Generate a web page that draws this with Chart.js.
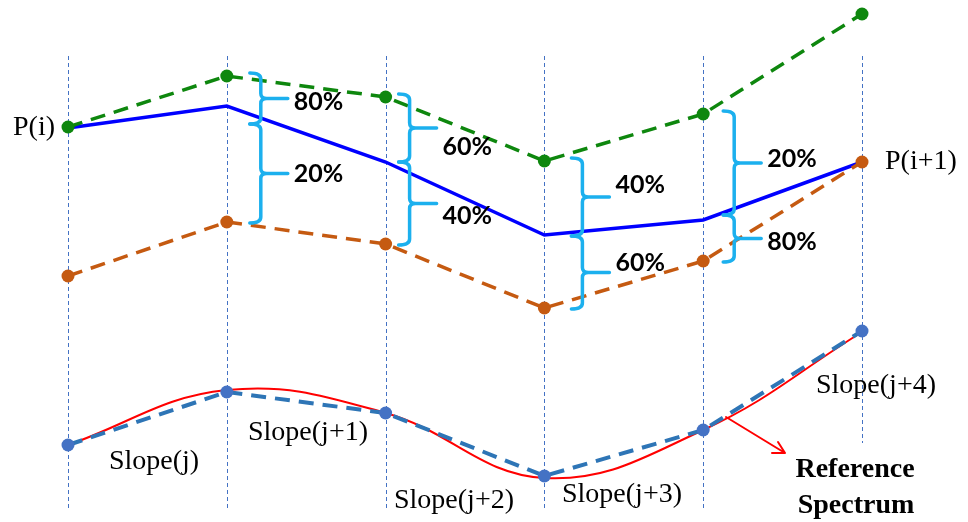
<!DOCTYPE html>
<html>
<head>
<meta charset="utf-8">
<script src="https://cdn.jsdelivr.net/npm/chart.js@4.4.1/dist/chart.umd.min.js"></script>
<style>
  html, body { margin: 0; padding: 0; background: #fff; }
  #wrap { width: 968px; height: 522px; position: relative; }
</style>
</head>
<body>
<div id="wrap"><canvas id="chart"></canvas></div>
<script>
// Wavelength steps (one vertical dashed guide per step)
const steps = ['0', '1', '2', '3', '4', '5'];

// Upper panel: two neighbouring spectra and the weighted one between them
const upperSpectrum = [39.5, 44.6, 42.5, 36.1, 40.8, 50.8];
const blendedSpectrum = [39.4, 41.6, 36.0, 28.7, 30.2, 36.0];
const lowerSpectrum = [24.6, 30.0, 27.8, 21.4, 26.1, 36.0];

// Where each brace pair splits (steps 1..4)
const braceSplit = [39.8, 36.0, 28.6, 30.7];
const upperPct = ['80%', '60%', '40%', '20%'];
const lowerPct = ['20%', '40%', '60%', '80%'];

// Lower panel: slope points and the reference spectrum
const slopePoints = [7.7, 13.0, 10.9, 4.6, 9.2, 19.1];
const referenceSpectrum = [7.7, 13.2, 10.9, 4.4, 9.2, 19.0];
const slopeLabels = ['Slope(j)', 'Slope(j+1)', 'Slope(j+2)', 'Slope(j+3)', 'Slope(j+4)'];

const GREEN = '#0E870E';
const ORANGE = '#C55A11';
const CYAN = '#1CB0EE';

// Vertical guides, braces and all the text
const annotate = {
    id: 'annotate',
    beforeDatasetsDraw(chart) {
        const ctx = chart.ctx;
        const x = chart.scales.x;
        ctx.save();
        ctx.strokeStyle = '#4472C4';
        ctx.lineWidth = 1;
        ctx.setLineDash([4, 3]);
        steps.forEach((s, i) => {
            const px = Math.round(x.getPixelForValue(i)) + 0.5;
            ctx.beginPath();
            ctx.moveTo(px, 56);
            ctx.lineTo(px, i === steps.length - 1 ? 443 : 510);
            ctx.stroke();
        });
        ctx.restore();
    },
    afterDatasetsDraw(chart) {
        const ctx = chart.ctx;
        const x = chart.scales.x;
        const y = chart.scales.y;
        const braceDx = [34, 24, 38, 31];
        const upperDy = [3, 19, -12, -4];
        const lowerDy = [0, 12, -10, 3];

        function brace(xb, top, bot) {
            const mid = (top + bot) / 2;
            ctx.beginPath();
            ctx.moveTo(xb - 11, top);
            ctx.quadraticCurveTo(xb, top, xb, top + 6);
            ctx.lineTo(xb, mid - 5);
            ctx.quadraticCurveTo(xb, mid, xb + 6, mid);
            ctx.lineTo(xb + 27, mid);
            ctx.moveTo(xb + 6, mid);
            ctx.quadraticCurveTo(xb, mid, xb, mid + 5);
            ctx.lineTo(xb, bot - 6);
            ctx.quadraticCurveTo(xb, bot, xb - 11, bot);
            ctx.stroke();
            return mid;
        }

        ctx.save();
        ctx.strokeStyle = CYAN;
        ctx.lineWidth = 3.5;
        ctx.lineCap = 'round';
        ctx.fillStyle = '#000';
        ctx.font = 'bold 25px Lato';
        ctx.textAlign = 'left';
        ctx.textBaseline = 'middle';
        for (let k = 1; k <= 4; k++) {
            const xb = x.getPixelForValue(k) + braceDx[k - 1];
            const top = y.getPixelForValue(upperSpectrum[k]) - 3;
            const split = y.getPixelForValue(braceSplit[k - 1]);
            const bot = y.getPixelForValue(lowerSpectrum[k]) + 1;
            const m1 = brace(xb, top, split);
            const m2 = brace(xb, split, bot);
            ctx.fillText(upperPct[k - 1], xb + 33, m1 + upperDy[k - 1]);
            ctx.fillText(lowerPct[k - 1], xb + 33, m2 + lowerDy[k - 1]);
        }

        // P(i) / P(i+1)
        ctx.font = '28px "Liberation Serif"';
        ctx.textAlign = 'right';
        ctx.fillText('P(i)', x.getPixelForValue(0) - 13, y.getPixelForValue(blendedSpectrum[0]));
        ctx.textAlign = 'left';
        ctx.fillText('P(i+1)', x.getPixelForValue(5) + 23, y.getPixelForValue(blendedSpectrum[5]));

        // slope labels
        const slopePos = [[154, 462], [308, 433], [454, 501], [622, 495], [876, 386]];
        ctx.textAlign = 'center';
        slopeLabels.forEach((t, i) => ctx.fillText(t, slopePos[i][0], slopePos[i][1]));

        // arrow to the reference spectrum label
        ctx.strokeStyle = '#FF0000';
        ctx.lineWidth = 2;
        ctx.beginPath();
        ctx.moveTo(726, 417);
        ctx.lineTo(785, 453);
        ctx.moveTo(785, 453);
        ctx.lineTo(772, 453);
        ctx.moveTo(785, 453);
        ctx.lineTo(778, 442);
        ctx.stroke();

        ctx.font = 'bold 28px "Liberation Serif"';
        ctx.fillText('Reference', 855, 470);
        ctx.fillText('Spectrum', 856, 506);
        ctx.restore();
    }
};

const ctx = document.getElementById('chart').getContext('2d');
new Chart(ctx, {
    type: 'line',
    data: {
        labels: steps,
        datasets: [
            {
                data: upperSpectrum,
                borderColor: GREEN,
                backgroundColor: GREEN,
                borderWidth: 3.5,
                borderDash: [15, 9],
                pointRadius: 6.5,
                pointBorderWidth: 0,
                tension: 0
            },
            {
                data: lowerSpectrum,
                borderColor: ORANGE,
                backgroundColor: ORANGE,
                borderWidth: 3.5,
                borderDash: [15, 9],
                pointRadius: 6.5,
                pointBorderWidth: 0,
                tension: 0
            },
            {
                data: blendedSpectrum,
                borderColor: '#0000FF',
                borderWidth: 3.5,
                pointRadius: 0,
                tension: 0
            },
            {
                data: slopePoints,
                borderColor: '#2E75B6',
                backgroundColor: '#4472C4',
                borderWidth: 4,
                borderDash: [15, 9],
                pointRadius: 6.5,
                pointBorderWidth: 0,
                tension: 0
            },
            {
                data: referenceSpectrum,
                borderColor: '#FF0000',
                borderWidth: 2,
                pointRadius: 0,
                tension: 0.4
            }
        ]
    },
    options: {
        responsive: true,
        maintainAspectRatio: false,
        animation: false,
        clip: false,
        layout: { autoPadding: false, padding: { left: 68, right: 106, top: 0, bottom: 0 } },
        plugins: {
            legend: { display: false },
            tooltip: { enabled: false }
        },
        scales: {
            x: { type: 'category', offset: false, display: false },
            y: { min: 0, max: 52.2, display: false }
        }
    },
    plugins: [annotate]
});
</script>
</body>
</html>
